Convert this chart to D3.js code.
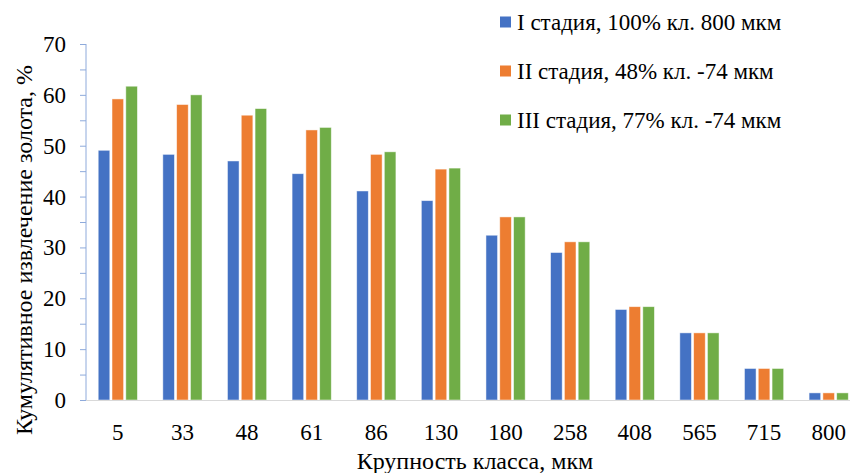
<!DOCTYPE html>
<html><head><meta charset="utf-8">
<script src="https://cdn.jsdelivr.net/npm/d3@7"></script>
<style>body{margin:0;background:#fff;}text{font-family:'Liberation Serif','Times New Roman',Times,'DejaVu Serif',serif;}</style>
</head><body><svg id="c" width="850" height="473"></svg>
<script>
const categories = ["5","33","48","61","86","130","180","258","408","565","715","800"];
const seriesNames = ["I стадия, 100% кл. 800 мкм","II стадия, 48% кл. -74 мкм","III стадия, 77% кл. -74 мкм"];
const stage1 = [49.1,48.3,47.0,44.5,41.1,39.2,32.4,29.0,17.8,13.2,6.2,1.4];
const stage2 = [59.2,58.1,56.0,53.1,48.3,45.4,36.0,31.1,18.35,13.2,6.2,1.4];
const stage3 = [61.7,60.0,57.3,53.6,48.8,45.6,36.0,31.1,18.35,13.2,6.2,1.4];
const yTicks = [0,10,20,30,40,50,60,70];
const colors = ["#4472C4","#ED7D31","#70AD47"];
const yTitle = "Кумулятивное извлечение золота, %";
const xTitle = "Крупность класса, мкм";
const FONT = "'Liberation Serif','Times New Roman',Times,'DejaVu Serif',serif";

const svg = d3.select("#c");
const L = 85.5, R = 861, T = 44, B = 400;
const x = d3.scaleBand().domain(categories).range([L, R]).paddingInner(0).paddingOuter(0);
const y = d3.scaleLinear().domain([0,70]).range([B, T]);
const series = [stage1, stage2, stage3];
const bw = 11.6, gap = 2.2;

series.forEach((vals, si) => {
  svg.append("g").selectAll("rect").data(vals).join("rect")
    .attr("x", (d,i) => x(categories[i]) + x.bandwidth()/2 - (3*bw+2*gap)/2 + si*(bw+gap))
    .attr("y", d => y(d))
    .attr("width", bw)
    .attr("height", d => B - y(d))
    .attr("fill", colors[si])
    .attr("stroke", "rgba(255,255,255,0.6)")
    .attr("stroke-width", 0.8);
});

svg.append("line").attr("x1", L).attr("x2", 850).attr("y1", B+0.5).attr("y2", B+0.5)
  .attr("stroke", "#d9d9d9").attr("stroke-width", 1);

const yAxis = d3.axisLeft(y).tickValues(d3.range(0,71,5)).tickSize(6).tickFormat("");
const ga = svg.append("g").attr("transform", `translate(${L+0.5},0)`).call(yAxis);
ga.selectAll("path,line").attr("stroke", "#8eaadb");
ga.select(".domain").attr("d", `M0,${B}V${T}`);
svg.append("g").selectAll("text").data(yTicks).join("text")
  .attr("x", 66).attr("y", d => y(d)).attr("dy", "0.35em")
  .attr("text-anchor", "end").attr("font-family", FONT).attr("font-size", 23).attr("fill", "#000").text(d => d);

svg.append("g").selectAll("text").data(categories).join("text")
  .attr("x", d => x(d) + x.bandwidth()/2).attr("y", 440)
  .attr("text-anchor", "middle").attr("font-family", FONT).attr("font-size", 23).attr("fill", "#000").text(d => d);

svg.append("text").attr("x", 475).attr("y", 469).attr("text-anchor", "middle")
  .attr("font-family", FONT).attr("font-size", 24).attr("fill", "#000").text(xTitle);
svg.append("text").attr("transform", "translate(32,250) rotate(-90)").attr("text-anchor", "middle")
  .attr("font-family", FONT).attr("font-size", 24).attr("fill", "#000").text(yTitle);

const ly = [22, 71, 120];
seriesNames.forEach((n, i) => {
  svg.append("rect").attr("x", 500).attr("y", ly[i]-5.5).attr("width", 11).attr("height", 11).attr("fill", colors[i]);
  svg.append("text").attr("x", 517).attr("y", ly[i]).attr("dy", "0.35em")
    .attr("font-family", FONT).attr("font-size", 23).attr("fill", "#000").text(n);
});
</script></body></html>
